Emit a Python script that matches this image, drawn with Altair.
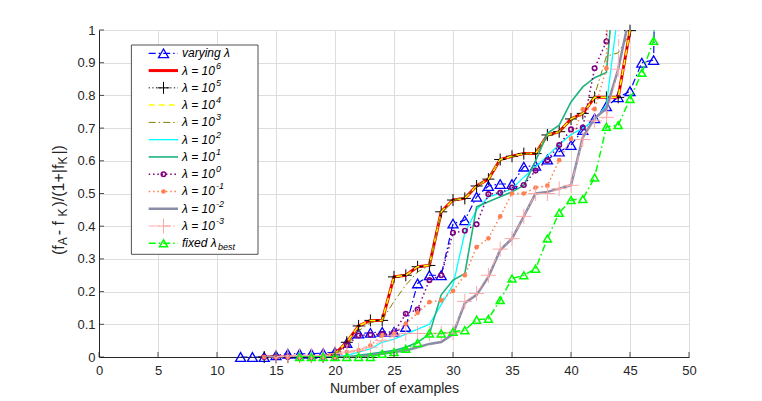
import altair as alt
import pandas as pd

# ---------------- data ----------------
X_TICKS = [0, 5, 10, 15, 20, 25, 30, 35, 40, 45, 50]
Y_TICKS = [0, 0.1, 0.2, 0.3, 0.4, 0.5, 0.6, 0.7, 0.8, 0.9, 1]

START_VARYING = 12
Y_VARYING = [0, 0, 0, 0.005, 0.01, 0.01, 0.01, 0.012, 0.015, 0.043, 0.072, 0.074, 0.077, 0.077,
             0.092, 0.225, 0.25, 0.25, 0.408, 0.418, 0.49, 0.523, 0.529, 0.529, 0.582, 0.585,
             0.604, 0.628, 0.648, 0.694, 0.73, 0.767, 0.794, 0.813, 0.9, 0.908, 3.0]

START_L6 = 14
Y_L6 = [0, 0, 0, 0, 0, 0, 0.01, 0.045, 0.095, 0.112, 0.112, 0.245, 0.25, 0.276, 0.28, 0.444,
        0.48, 0.485, 0.523, 0.544, 0.604, 0.614, 0.622, 0.622, 0.679, 0.689, 0.728, 0.745,
        0.794, 0.794, 0.794, 0.998, 3.0]

START_L5 = 14
Y_L5 = [0, 0, 0, 0, 0, 0, 0.01, 0.045, 0.095, 0.112, 0.112, 0.245, 0.25, 0.276, 0.28, 0.444,
        0.48, 0.485, 0.523, 0.544, 0.604, 0.614, 0.622, 0.622, 0.679, 0.689, 0.728, 0.745,
        0.794, 0.794, 0.794, 0.998, 3.0]

START_L4 = 14
Y_L4 = [0, 0, 0, 0, 0, 0, 0.01, 0.045, 0.095, 0.112, 0.112, 0.245, 0.25, 0.276, 0.28, 0.444,
        0.48, 0.485, 0.523, 0.544, 0.604, 0.614, 0.622, 0.622, 0.679, 0.689, 0.728, 0.745,
        0.794, 0.794, 0.794, 0.998, 3.0]

START_L3 = 14
Y_L3 = [0, 0, 0, 0, 0, 0, 0.01, 0.035, 0.08, 0.105, 0.112, 0.17, 0.22, 0.26, 0.28, 0.44,
        0.478, 0.49, 0.52, 0.55, 0.6, 0.612, 0.62, 0.625, 0.675, 0.69, 0.72, 0.75, 0.8,
        0.92, 0.93, 0.99, 3.0]

START_L2 = 14
Y_L2 = [0, 0, 0, 0, 0, 0, 0, 0.005, 0.015, 0.025, 0.045, 0.055, 0.07, 0.085, 0.1, 0.16,
        0.22, 0.38, 0.45, 0.49, 0.5, 0.515, 0.55, 0.582, 0.615, 0.65, 0.68, 0.7, 0.724,
        0.77, 1.06, 3.0]

START_L1 = 14
Y_L1 = [0, 0, 0, 0, 0, 0, 0, 0, 0.005, 0.01, 0.015, 0.02, 0.03, 0.045, 0.07, 0.19, 0.235,
        0.255, 0.459, 0.475, 0.49, 0.505, 0.525, 0.6, 0.684, 0.709, 0.78, 0.826, 0.854,
        0.87, 1.28, 3.0]

START_L0 = 14
Y_L0 = [0, 0, 0, 0, 0, 0, 0, 0.036, 0.066, 0.068, 0.07, 0.075, 0.132, 0.145, 0.235, 0.25,
        0.38, 0.386, 0.406, 0.498, 0.502, 0.518, 0.526, 0.57, 0.602, 0.648, 0.696, 0.702,
        0.883, 0.965, 3.0]

START_LM1 = 14
Y_LM1 = [0, 0, 0, 0, 0, 0, 0, 0.015, 0.02, 0.035, 0.066, 0.07, 0.102, 0.135, 0.168, 0.173,
         0.202, 0.25, 0.336, 0.363, 0.43, 0.5, 0.5, 0.518, 0.524, 0.602, 0.667, 0.757,
         0.758, 0.883, 3.0]

START_LM2 = 14
Y_LM2 = [0, 0, 0, 0, 0, 0, 0, 0, 0, 0.005, 0.01, 0.015, 0.02, 0.03, 0.04, 0.046, 0.07,
         0.165, 0.19, 0.245, 0.327, 0.362, 0.43, 0.5, 0.505, 0.515, 0.525, 0.672, 0.73,
         0.76, 0.88, 1.05, 3.0]

START_LM3 = 15
Y_LM3 = [0, 0.003, 0.005, 0.005, 0.005, 0.01, 0.015, 0.02, 0.03, 0.05, 0.065, 0.072, 0.072,
         0.072, 0.072, 0.075, 0.17, 0.194, 0.25, 0.33, 0.362, 0.43, 0.5, 0.5, 0.515, 0.525,
         0.665, 0.722, 0.733, 0.88, 3.0]

START_FIXED = 17
Y_FIXED = [0, 0, 0, 0, 0, 0, 0, 0.01, 0.015, 0.025, 0.043, 0.072, 0.072, 0.077, 0.082, 0.114,
           0.117, 0.174, 0.24, 0.25, 0.27, 0.362, 0.441, 0.48, 0.483, 0.549, 0.704, 0.709,
           0.789, 0.869, 0.967, 3.0]

SERIES = [
    ("varying", START_VARYING, Y_VARYING),
    ("1e6", START_L6, Y_L6),
    ("1e5", START_L5, Y_L5),
    ("1e4", START_L4, Y_L4),
    ("1e3", START_L3, Y_L3),
    ("1e2", START_L2, Y_L2),
    ("1e1", START_L1, Y_L1),
    ("1e0", START_L0, Y_L0),
    ("1e-1", START_LM1, Y_LM1),
    ("1e-2", START_LM2, Y_LM2),
    ("1e-3", START_LM3, Y_LM3),
    ("fixed", START_FIXED, Y_FIXED),
]

LEGEND_LABELS = ["varying λ", "λ = 10", "λ = 10", "λ = 10", "λ = 10", "λ = 10", "λ = 10",
                 "λ = 10", "λ = 10", "λ = 10", "λ = 10", "fixed λ"]
LEGEND_EXPONENTS = ["6", "5", "4", "3", "2", "1", "0", "-1", "-2", "-3"]
LEGEND_SUBSCRIPT = "best"

# ---------------- styles ----------------
PLUS = "M-1,0L1,0M0,-1L0,1"
DASHDOT = [7, 3, 1.5, 3]
DOT = [1.5, 2.8]
STYLES = {
    "varying": dict(color="#0000ff", dash=DASHDOT, width=1.2, marker="triangle-up", msize=100, mfill=False, mwidth=1.3),
    "1e6": dict(color="#ff0000", dash=None, width=3),
    "1e5": dict(color="#000000", dash=[1.2, 2.4], width=1, marker=PLUS, msize=144, mfill=False, mwidth=1),
    "1e4": dict(color="#ffff00", dash=[6, 4], width=1.5),
    "1e3": dict(color="#808000", dash=DASHDOT, width=1),
    "1e2": dict(color="#00ffff", dash=None, width=1.3),
    "1e1": dict(color="#1fb27e", dash=None, width=1.6),
    "1e0": dict(color="#800080", dash=DOT, width=1.5, marker="circle", msize=20, mfill=False, mwidth=1.6),
    "1e-1": dict(color="#ff7f50", dash=DOT, width=1.5, marker="circle", msize=22, mfill=True, mwidth=1),
    "1e-2": dict(color="#8a8ca8", dash=None, width=2.5),
    "1e-3": dict(color="#ffa8a8", dash=DASHDOT, width=1, marker=PLUS, msize=225, mfill=False, mwidth=1),
    "fixed": dict(color="#00ff00", dash=DASHDOT, width=1.5, marker="triangle-up", msize=64, mfill=False, mwidth=1.5),
}

W, H = 590, 327
FONT = "Liberation Sans"
AX = "#262626"
GRID = "#dedede"

x_axis = alt.Axis(values=X_TICKS, grid=True, gridColor=GRID, gridWidth=1, domainColor=AX,
                  domainWidth=1, ticks=False, tickSize=0, labelColor=AX, labelFont=FONT,
                  labelFontSize=13, labelPadding=7, labelFlush=False, labelOverlap=False,
                  title="Number of examples", titleFont=FONT, titleFontSize=14,
                  titleFontWeight="normal", titleColor=AX, titlePadding=4)
y_axis = alt.Axis(values=Y_TICKS, grid=True, gridColor=GRID, gridWidth=1, domainColor=AX,
                  domainWidth=1, ticks=False, tickSize=0, labelColor=AX, labelFont=FONT,
                  labelFontSize=13, labelPadding=4, labelFlush=False, labelOverlap=False,
                  format="~g", title="")
xenc = alt.X("x:Q", scale=alt.Scale(domain=[0, 50], nice=False, zero=False), axis=x_axis)
yenc = alt.Y("y:Q", scale=alt.Scale(domain=[0, 1], nice=False, zero=False), axis=y_axis)


def line_kwargs(st):
    kw = dict(color=st["color"], strokeWidth=st["width"])
    if st["dash"] is not None:
        kw["strokeDash"] = st["dash"]
    return kw


def point_kwargs(st):
    kw = dict(shape=st["marker"], size=st["msize"], filled=st["mfill"], color=st["color"],
              strokeWidth=st["mwidth"], opacity=1)
    return kw


data_layers = []
for key, x0, ys in SERIES:
    st = STYLES[key]
    df = pd.DataFrame({"x": list(range(x0, x0 + len(ys))), "y": ys})
    data_layers.append(alt.Chart(df).mark_line(clip=True, **line_kwargs(st)).encode(x=xenc, y=yenc))
    if "marker" in st:
        data_layers.append(alt.Chart(df).transform_filter("datum.y <= 1")
                           .mark_point(**point_kwargs(st)).encode(x=xenc, y=yenc))

# inward ticks
xt = pd.DataFrame({"x": X_TICKS})
yt = pd.DataFrame({"y": Y_TICKS})
data_layers.append(alt.Chart(xt).mark_rule(color=AX, strokeWidth=0.8)
                   .encode(x=xenc, y=alt.value(H), y2=alt.value(H - 5)))
data_layers.append(alt.Chart(yt).mark_rule(color=AX, strokeWidth=0.8)
                   .encode(y=yenc, x=alt.value(0), x2=alt.value(5)))
data_group = alt.layer(*data_layers)

# ---------------- legend ----------------
leg_df = pd.DataFrame({"idx": list(range(len(LEGEND_LABELS))), "label": LEGEND_LABELS})
ly = alt.Y("idx:Q", scale=alt.Scale(domain=[0, 11], range=[23.3, 213.3]), axis=None)
one = pd.DataFrame({"a": [0]})
legend_layers = [alt.Chart(one).mark_rect(fill="white", stroke=AX, strokeWidth=0.8).encode(
    x=alt.value(32.4), x2=alt.value(159), y=alt.value(15), y2=alt.value(224.3))]
for i, (key, _, _) in enumerate(SERIES):
    st = STYLES[key]
    row = leg_df[leg_df["idx"] == i]
    legend_layers.append(alt.Chart(row).mark_rule(**line_kwargs(st))
                         .encode(x=alt.value(49.7), x2=alt.value(79), y=ly))
    if "marker" in st:
        legend_layers.append(alt.Chart(row).mark_point(**point_kwargs(st))
                             .encode(x=alt.value(64.5), y=ly))
legend_layers.append(alt.Chart(leg_df).mark_text(align="left", baseline="middle", font=FONT,
                                                 fontSize=12, fontStyle="italic", color="black")
                     .encode(x=alt.value(83), y=ly, text="label:N"))
exp_df = pd.DataFrame({"idx": list(range(1, 11)), "e": LEGEND_EXPONENTS})
legend_layers.append(alt.Chart(exp_df).mark_text(align="left", baseline="middle", font=FONT,
                                                 fontSize=9, fontStyle="italic", color="black", dy=-5)
                     .encode(x=alt.value(117), y=ly, text="e:N"))
sub_df = pd.DataFrame({"idx": [11], "s": [LEGEND_SUBSCRIPT]})
legend_layers.append(alt.Chart(sub_df).mark_text(align="left", baseline="middle", font=FONT,
                                                 fontSize=9, fontStyle="italic", color="black", dy=4)
                     .encode(x=alt.value(119), y=ly, text="s:N"))
legend_group = alt.layer(*legend_layers)

# ---------------- y-axis title with subscripts ----------------
YT_SEGMENTS = [("(f", 225.0, 16, -40.5), ("A", 215.2, 12, -36.0), (" - f", 205.2, 16, -40.5),
               ("K", 186.5, 12, -36.0), (")/(1+|f", 176.5, 16, -40.5), ("K", 134.6, 12, -36.0),
               ("|)", 124.6, 16, -40.5)]
title_layers = []
for txt, ypos, fs, xpos in YT_SEGMENTS:
    title_layers.append(alt.Chart(one).mark_text(text=txt, angle=270, align="left", baseline="middle",
                                                 font=FONT, fontSize=fs, color=AX)
                        .encode(x=alt.value(xpos), y=alt.value(ypos)))
title_group = alt.layer(*title_layers)

chart = (alt.layer(data_group, legend_group, title_group)
         .resolve_scale(y="independent")
         .properties(width=W, height=H, background="white",
                     padding={"left": 91, "top": 22, "right": 60, "bottom": 40},
                     autosize=alt.AutoSizeParams(type="none"))
         .configure_view(strokeWidth=0))

chart.save("out.html", embed_options={"renderer": "svg", "actions": False})
